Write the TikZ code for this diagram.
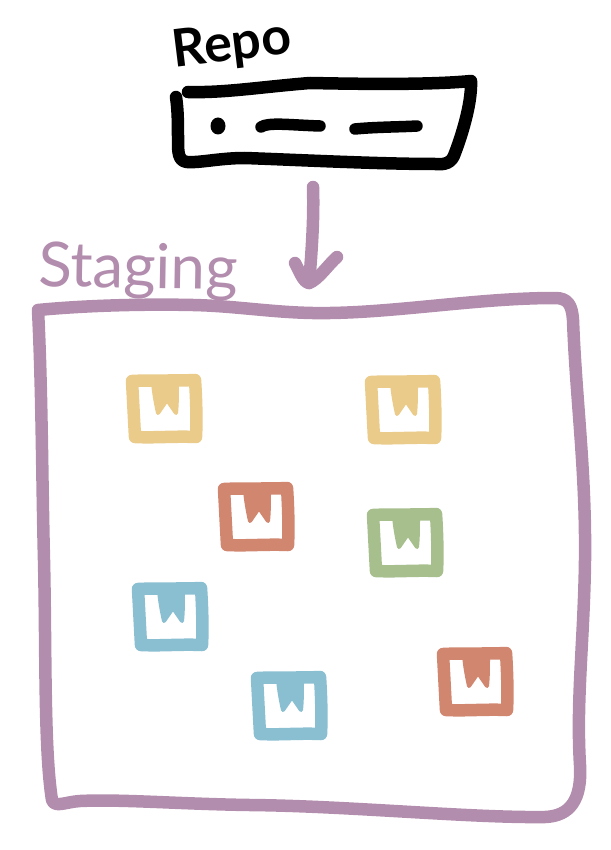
\documentclass[tikz,border=0pt]{standalone}
\usepackage{fontspec}
\setmainfont{Lato}
\definecolor{plum}{HTML}{B28DAE}
\definecolor{ochre}{HTML}{EACB8A}
\definecolor{terra}{HTML}{D0866F}
\definecolor{sage}{HTML}{A6BF8D}
\definecolor{sky}{HTML}{8ABFD1}
\tikzset{
  ink/.style={line cap=round,line join=round,line width=12.5pt},
  inkthin/.style={line cap=round,line join=round,line width=11.5pt,black},
  label/.style={inner sep=0pt,anchor=center},
}
\newcommand{\pkgicon}[3]{%
  \begin{scope}[shift={(#1,#2)}]
    \draw[ink,#3] (7,7) .. controls (25,6) and (50,7) .. (70,6)
      .. controls (71,20) and (72,45) .. (71,63)
      .. controls (50,62) and (30,64) .. (10,63)
      .. controls (9,45) and (8,25) .. (7,7) -- cycle;
    \fill[#3,draw=#3,line width=4pt,line join=round] (28,8) -- (52,8)
      .. controls (52,20) and (52,30) .. (51,39) -- (42,26) -- (33,39)
      .. controls (31,30) and (29,20) .. (28,8) -- cycle;
  \end{scope}}
\begin{document}
\begin{tikzpicture}[x=1pt,y=-1pt]
\useasboundingbox (0,0) rectangle (610,850);
% repo
\node[label,font=\fontsize{52}{52}\selectfont\bfseries,rotate=7] (repolabel) at (232,46) {Repo};
\draw[ink,black] (188,92) .. controls (225,93) and (260,87) .. (310,83)
  .. controls (360,84) and (430,85) .. (471,81)
  .. controls (472,105) and (460,140) .. (455,153)
  .. controls (452,163) and (445,165) .. (435,164)
  .. controls (380,164) and (300,160) .. (245,158)
  .. controls (220,158) and (200,163) .. (187,162)
  .. controls (178,161) and (178,152) .. (178,140)
  .. controls (178,125) and (178,110) .. (176,97);
\fill[black] (218,126) ellipse (7.5pt and 8.5pt);
\draw[inkthin] (261,127) .. controls (268,122) and (290,125) .. (320,126);
\draw[inkthin] (355,129) .. controls (375,127) and (400,127) .. (417,126);
% arrow
\coordinate (arrowstart) at (313,187);
\coordinate (arrowtip) at (309,283);
\draw[ink,plum] (arrowstart) .. controls (314,215) and (312,250) .. (arrowtip);
\draw[ink,plum] (295,263) .. controls (300,272) and (303,282) .. (arrowtip)
  .. controls (318,280) and (328,265) .. (337,257);
% staging
\node[label,text=plum,font=\fontsize{62}{62}\selectfont,rotate=-1] (staginglabel) at (138,271) {Staging};
\draw[ink,plum] (38,310) .. controls (90,305) and (150,304) .. (193,305)
  .. controls (240,306) and (280,314) .. (330,313)
  .. controls (400,312) and (480,298) .. (555,298)
  .. controls (568,298) and (572,305) .. (573,320)
  .. controls (576,400) and (586,470) .. (585,560)
  .. controls (584,640) and (576,700) .. (580,765)
  .. controls (582,800) and (570,816) .. (545,817)
  .. controls (470,818) and (350,806) .. (250,805)
  .. controls (180,804) and (120,799) .. (80,801)
  .. controls (65,802) and (55,808) .. (52,800)
  .. controls (44,750) and (46,650) .. (44,560)
  .. controls (42,480) and (42,390) .. (38,310) -- cycle;
% packages
\pkgicon{125}{374}{ochre}
\pkgicon{364}{375}{ochre}
\pkgicon{217}{482}{terra}
\pkgicon{366}{508}{sage}
\pkgicon{131}{582}{sky}
\pkgicon{436}{647}{terra}
\pkgicon{250}{671}{sky}
\end{tikzpicture}
\end{document}
